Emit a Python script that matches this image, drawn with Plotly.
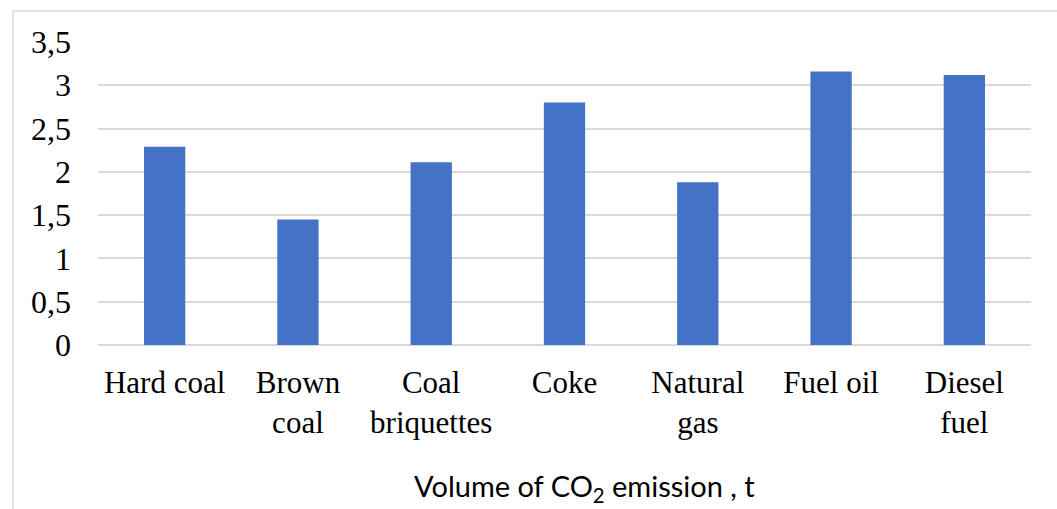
import plotly.graph_objects as go

# Fuel types and their CO2 emission volume (t)
fuels = ["Hard coal", "Brown<br>coal", "Coal<br>briquettes", "Coke",
         "Natural<br>gas", "Fuel oil", "Diesel<br>fuel"]
emissions = [2.29, 1.45, 2.11, 2.80, 1.88, 3.16, 3.12]
y_ticks = [0, 0.5, 1, 1.5, 2, 2.5, 3, 3.5]
y_tick_text = ["0", "0,5", "1", "1,5", "2", "2,5", "3", "3,5"]

W, H = 1057, 509
L, R, T, B = 98, 26, 42, 164
plot_w = W - L - R
plot_h = H - T - B

fig = go.Figure(go.Bar(
    x=fuels,
    y=emissions,
    marker=dict(color="#4472c4", line=dict(width=0)),
))

serif = "Liberation Serif, Times New Roman, serif"

fig.update_layout(
    width=W,
    height=H,
    margin=dict(l=L, r=R, t=T, b=B, pad=0),
    paper_bgcolor="white",
    plot_bgcolor="white",
    bargap=0.69,
    showlegend=False,
    font=dict(family=serif, size=30, color="#000000"),
    xaxis=dict(
        showgrid=False,
        showline=False,
        zeroline=False,
        ticks="",
        tickfont=dict(family=serif, size=31, color="#000000"),
        ticklabelstandoff=16,
    ),
    yaxis=dict(
        range=[0, 3.5],
        tickvals=y_ticks,
        ticktext=y_tick_text,
        showgrid=True,
        gridcolor="#d9d9d9",
        gridwidth=1.5,
        zeroline=True,
        zerolinecolor="#d9d9d9",
        zerolinewidth=1.5,
        showline=False,
        ticks="",
        tickfont=dict(family=serif, size=32, color="#000000"),
        ticklabelstandoff=26,
    ),
    shapes=[
        # chart-area frame (only its top and left edges fall inside the canvas)
        dict(type="rect", xref="paper", yref="paper",
             x0=(13 - L) / plot_w, x1=(W + 20 - L) / plot_w,
             y0=(T + plot_h - (H + 20)) / plot_h, y1=(T + plot_h - 11) / plot_h,
             line=dict(color="#d9d9d9", width=1.5), fillcolor="rgba(0,0,0,0)",
             layer="below"),
    ],
    annotations=[
        dict(text="Volume of CO<sub>2</sub> emission , t",
             xref="paper", yref="paper",
             x=(584 - L) / plot_w, y=(T + plot_h - 487) / plot_h,
             xanchor="center", yanchor="middle", showarrow=False,
             font=dict(family="Lato, Open Sans, sans-serif", size=29,
                       color="#000000")),
    ],
)

fig.write_html("out.html")
